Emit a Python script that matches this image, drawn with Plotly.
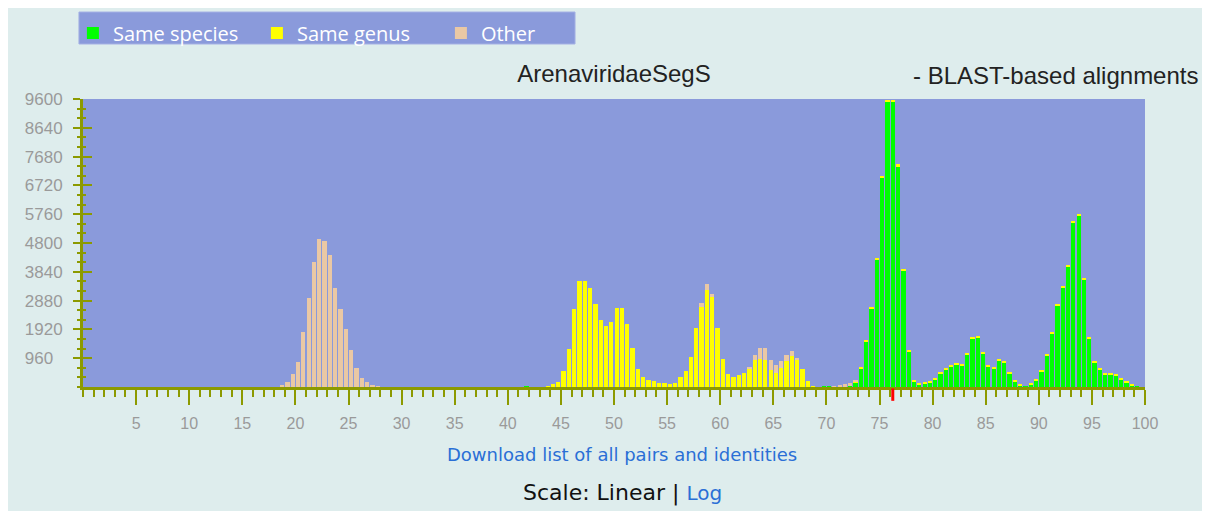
import plotly.graph_objects as go

# ---------------- data (bin start in % identity, counts) ----------------
species_bins = [41.5, 69.5, 70.0, 72.0, 72.5, 73.0, 73.5, 74.0, 74.5, 75.0, 75.5, 76.0, 76.5, 77.0, 77.5,
                78.0, 78.5, 79.0, 79.5, 80.0, 80.5, 81.0, 81.5, 82.0, 82.5, 83.0, 83.5, 84.0, 84.5,
                85.0, 85.5, 86.0, 86.5, 87.0, 87.5, 88.0, 88.5, 89.0, 89.5, 90.0, 90.5, 91.0, 91.5,
                92.0, 92.5, 93.0, 93.5, 94.0, 94.5, 95.0, 95.5, 96.0, 96.5, 97.0, 97.5, 98.0, 98.5, 99.0]
species_counts = [25, 25, 20, 50, 150, 600, 1500, 2610, 4240, 6970, 9490, 9490, 7360, 3890, 1180,
                  190, 90, 120, 150, 260, 450, 590, 690, 745, 725, 1080, 1620, 1650, 1100,
                  690, 600, 895, 820, 440, 190, 55, 20, 90, 220, 510, 1060, 1780, 2730,
                  3300, 4000, 5470, 5700, 3590, 1610, 800, 595, 430, 420, 380, 260, 155, 55, 15]

genus_bins = [43.5, 44.0, 44.5, 45.0, 45.5, 46.0, 46.5, 47.0, 47.5, 48.0, 48.5, 49.0, 49.5, 50.0,
              50.5, 51.0, 51.5, 52.0, 52.5, 53.0, 53.5, 54.0, 54.5, 55.0, 55.5, 56.0, 56.5, 57.0,
              57.5, 58.0, 58.5, 59.0, 59.5, 60.0, 60.5, 61.0, 61.5, 62.0, 62.5, 63.0, 63.5, 64.0,
              64.5, 65.0, 65.5, 66.0, 66.5, 67.0, 67.5, 68.0, 68.5,
              72.5, 73.0, 73.5, 74.0, 74.5, 75.0, 75.5, 76.0, 76.5, 77.0, 77.5, 78.0, 78.5, 79.0,
              79.5, 80.0, 80.5, 81.0, 81.5, 82.0, 82.5, 83.0, 83.5, 84.0, 84.5, 85.0, 85.5, 86.0,
              86.5, 87.0, 87.5, 88.0, 89.0, 89.5, 90.0, 90.5, 91.0, 91.5, 92.0, 92.5, 93.0, 93.5,
              94.0, 94.5, 95.0, 95.5, 96.0, 96.5, 97.0, 97.5, 98.0, 98.5]
genus_counts = [20, 100, 160, 520, 1270, 2590, 3530, 3530, 3310, 2780, 2240, 2050, 2165, 2630,
                2630, 2090, 1310, 600, 350, 250, 195, 140, 117, 94, 117, 327, 518, 995,
                1960, 2680, 3245, 2990, 1960, 920, 440, 327, 385, 475, 620, 890, 920, 890,
                580, 475, 640, 862, 1030, 890, 607, 184, 30,
                30, 40, 50, 55, 60, 60, 70, 70, 60, 60, 60, 50, 37, 40,
                44, 47, 45, 50, 50, 50, 50, 50, 43, 47, 42, 38, 40, 45,
                42, 34, 27, 18, 17, 30, 40, 48, 50, 50, 56, 57, 57, 60,
                56, 53, 50, 45, 44, 40, 37, 34, 29, 18]

other_bins = [18.5, 19.0, 19.5, 20.0, 20.5, 21.0, 21.5, 22.0, 22.5, 23.0, 23.5, 24.0, 24.5, 25.0,
              25.5, 26.0, 26.5, 27.0, 27.5, 58.0, 58.5, 59.0, 62.5, 63.0, 63.5, 64.0, 64.5, 65.0,
              65.5, 66.0, 66.5, 67.0, 70.5, 71.0, 71.5, 72.0, 72.5]
other_counts = [70, 160, 440, 850, 1850, 2980, 4160, 4950, 4860, 4400, 3300, 2590, 1930, 1220,
                640, 310, 160, 75, 30, 130, 175, 110, 40, 185, 390, 420, 305, 245,
                220, 190, 166, 85, 20, 60, 107, 100, 40]

series_names = ["Same species", "Same genus", "Other"]
series_colors = ["#00ff00", "#ffff00", "#eac8a4"]

y_ticks = [960, 1920, 2880, 3840, 4800, 5760, 6720, 7680, 8640, 9600]
# labels are left-aligned in the original: pad the 3-digit label with a figure space
y_tick_labels = ["960\u2007", "1920", "2880", "3840", "4800", "5760", "6720", "7680", "8640", "9600"]
x_ticks = [5, 10, 15, 20, 25, 30, 35, 40, 45, 50, 55, 60, 65, 70, 75, 80, 85, 90, 95, 100]
marker_identity = 76.25

title_left = "ArenaviridaeSegS"
title_right = "- BLAST-based alignments"
link_text = "Download list of all pairs and identities"

# ---------------- style ----------------
PAGE_BG = "#deeded"
PLOT_BG = "#8a9adb"
AXIS = "#8c9a00"
LINK = "#2a6fd6"
LABEL = "#9a9a9a"

fig = go.Figure()
for name, color, bins, counts in zip(series_names, series_colors,
                                     [species_bins, genus_bins, other_bins],
                                     [species_counts, genus_counts, other_counts]):
    fig.add_trace(go.Bar(x=bins, y=counts, name=name, width=0.4, offset=0.05,
                         marker=dict(color=color, line=dict(width=0))))

# overlay axis to make y ticks cross the axis line
fig.add_trace(go.Scatter(x=[None], y=[None], yaxis="y2", showlegend=False, hoverinfo="skip"))

fig.update_layout(
    width=1194, height=503,
    paper_bgcolor=PAGE_BG, plot_bgcolor=PLOT_BG,
    margin=dict(l=75, r=57, t=91, b=124),
    barmode="stack", bargap=0,
    font=dict(family="Liberation Sans, Arial", color=LABEL),
    showlegend=True,
    legend=dict(orientation="h", xref="paper", x=-0.0095, xanchor="left",
                yref="container", y=0.989, yanchor="top",
                bgcolor="rgba(0,0,0,0)", font=dict(family="Open Sans", size=20, color="white"),
                entrywidth=139, traceorder="normal", itemclick=False),
    xaxis=dict(range=[0, 100], tickvals=x_ticks, ticks="outside", ticklen=15, tickwidth=2,
               tickcolor=AXIS, showline=True, linecolor=AXIS, linewidth=3, showgrid=False,
               zeroline=False, tickfont=dict(size=16, color=LABEL), ticklabelstandoff=5,
               automargin=False,
               minor=dict(dtick=1, ticks="outside", ticklen=7, tickwidth=2, tickcolor=AXIS)),
    yaxis=dict(range=[0, 9600], tickvals=y_ticks, ticktext=y_tick_labels, ticks="outside",
               ticklen=7, tickwidth=2,
               tickcolor=AXIS, showline=True, linecolor=AXIS, linewidth=3, showgrid=False,
               zeroline=False, tickfont=dict(size=17, color=LABEL), ticklabelstandoff=7,
               automargin=False,
               minor=dict(dtick=320, ticks="outside", ticklen=3, tickwidth=2, tickcolor=AXIS)),
    yaxis2=dict(range=[0, 9600], overlaying="y", side="left", anchor="x", tickvals=y_ticks,
                ticks="inside", ticklen=9, tickwidth=2, tickcolor=AXIS, showticklabels=False,
                showgrid=False, zeroline=False, showline=False, automargin=False,
                minor=dict(dtick=320, ticks="inside", ticklen=3, tickwidth=2, tickcolor=AXIS)),
    title=dict(text=title_left, x=0.5, xref="paper", xanchor="center", y=0.869, yanchor="middle",
               font=dict(family="Liberation Sans, Arial", size=24, color="#222222")),
)

# legend panel background
fig.add_shape(type="rect", xref="paper", yref="paper", x0=-0.0038, x1=0.4633, y0=1.191, y1=1.302,
              fillcolor=PLOT_BG, line=dict(color="#a4b0e4", width=1), layer="below")

fig.add_annotation(text=title_right, xref="paper", yref="paper", x=1.052, y=1.083,
                   xanchor="right", yanchor="middle", showarrow=False,
                   font=dict(family="Liberation Sans, Arial", size=24, color="#222222"))
fig.add_annotation(text=link_text, xref="paper", yref="paper", x=0.508, y=-0.236,
                   xanchor="center", yanchor="middle", showarrow=False,
                   font=dict(family="DejaVu Sans", size=18, color=LINK))
fig.add_annotation(text="Scale: Linear | <span style='color:%s;font-size:20px'>Log</span>" % LINK,
                   xref="paper", yref="paper", x=0.508, y=-0.368,
                   xanchor="center", yanchor="middle", showarrow=False,
                   font=dict(family="DejaVu Sans", size=22, color="#111111"))

fig.add_shape(type="line", xref="x", yref="paper", x0=marker_identity, x1=marker_identity,
              y0=-0.005, y1=-0.048, line=dict(color="#ff0000", width=3))

fig.write_html("out.html")
